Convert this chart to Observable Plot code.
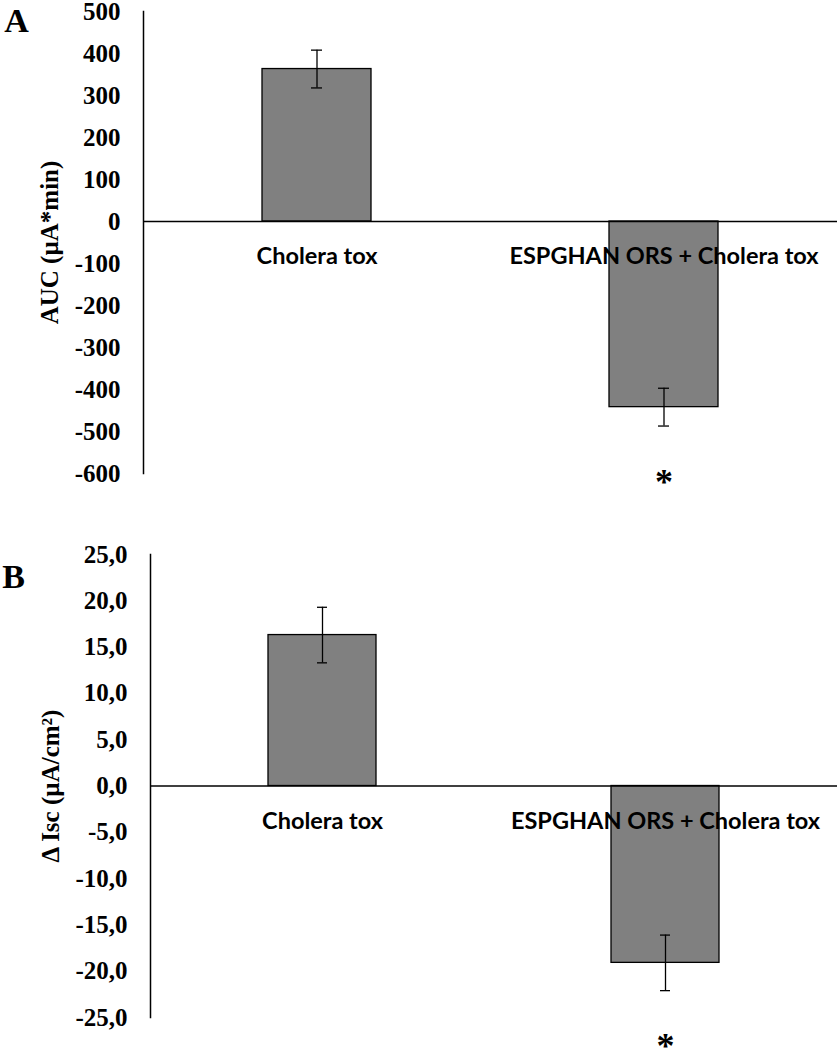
<!DOCTYPE html>
<html>
<head>
<meta charset="utf-8">
<script src="https://cdn.jsdelivr.net/npm/d3@7"></script>
<script src="https://cdn.jsdelivr.net/npm/@observablehq/plot@0.6"></script>
<style>
  html, body { margin: 0; padding: 0; background: #fff; }
  #chart svg { display: block; }
</style>
</head>
<body>
<div id="chart"></div>
<script>
// ---- data ----
const categories = ["Cholera tox", "ESPGHAN ORS + Cholera tox"];
const aucMean = [363, -442];
const aucSE = [45, 45];
const iscMean = [16.3, -19.1];
const iscSE = [3.0, 3.0];
const aucTicks = [500, 400, 300, 200, 100, 0, -100, -200, -300, -400, -500, -600];
const iscTicks = [25, 20, 15, 10, 5, 0, -5, -10, -15, -20, -25];
const significant = [false, true];

const serif = "'Liberation Serif', 'Times New Roman', serif";
const sans = "Lato, 'Open Sans', sans-serif";

function panel({mean, se, ticks, domain, fmt, title, letter, marginLeft, marginTop, marginBottom, letterDx, letterDy, titleDx}) {
  const data = categories.map((c, i) => ({cat: c, v: mean[i], se: se[i], sig: significant[i]}));
  return Plot.plot({
    width: 838,
    height: 525,
    marginLeft,
    marginRight: 1,
    marginTop,
    marginBottom,
    style: {background: "#fff", color: "#000", overflow: "visible"},
    x: {domain: categories, paddingInner: 0.686, paddingOuter: 0.343, axis: null},
    y: {domain, ticks, tickFormat: fmt},
    marks: [
      Plot.barY(data, {x: "cat", y: "v", fill: "#808080", stroke: "#000", strokeWidth: 1.3}),
      Plot.ruleY([0], {stroke: "#000", strokeWidth: 1.3}),
      Plot.ruleX(data, {x: "cat", y1: d => d.v - d.se, y2: d => d.v + d.se, stroke: "#000", strokeWidth: 1.3}),
      Plot.tickY(data, {x: "cat", y: d => d.v + d.se, insetLeft: 49, insetRight: 49, stroke: "#000", strokeWidth: 1.3}),
      Plot.tickY(data, {x: "cat", y: d => d.v - d.se, insetLeft: 49, insetRight: 49, stroke: "#000", strokeWidth: 1.3}),
      Plot.frame({anchor: "left", stroke: "#000", strokeWidth: 1.5}),
      Plot.axisY({ticks, tickFormat: fmt, tickSize: 0, tickPadding: 23, label: null,
        fontFamily: serif, fontWeight: "bold", fontSize: 25}),
      Plot.text(data, {x: "cat", y: () => 0, text: "cat", dy: 35,
        fontFamily: sans, fontWeight: "bold", fontSize: 23.5, fill: "#000"}),
      Plot.text(data.filter(d => d.sig), {x: "cat", y: d => d.v - d.se, text: () => "*", dy: 56,
        fontFamily: serif, fontWeight: "bold", fontSize: 36, fill: "#000"}),
      Plot.text([title], {frameAnchor: "left", textAnchor: "middle", lineAnchor: "middle",
        dx: titleDx, rotate: -90,
        fontFamily: serif, fontWeight: "bold", fontSize: 25, fill: "#000"}),
      Plot.text([letter], {frameAnchor: "top-left", textAnchor: "middle", lineAnchor: "middle",
        dx: letterDx, dy: letterDy,
        fontFamily: serif, fontWeight: "bold", fontSize: 34, fill: "#000"})
    ]
  });
}

const chart = document.getElementById("chart");
chart.append(panel({
  mean: aucMean, se: aucSE, ticks: aucTicks, domain: [-600, 500],
  fmt: d => String(d), title: "AUC (\u00B5A*min)", letter: "A",
  marginLeft: 143, marginTop: 11, marginBottom: 52, letterDx: -127, letterDy: 10, titleDx: -94
}));
chart.append(panel({
  mean: iscMean, se: iscSE, ticks: iscTicks, domain: [-25, 25],
  fmt: d => d.toFixed(1).replace(".", ","), title: "\u0394 Isc (\u00B5A/cm\u00B2)", letter: "B",
  marginLeft: 150, marginTop: 29, marginBottom: 33, letterDx: -137, letterDy: 23, titleDx: -100
}));
</script>
</body>
</html>
